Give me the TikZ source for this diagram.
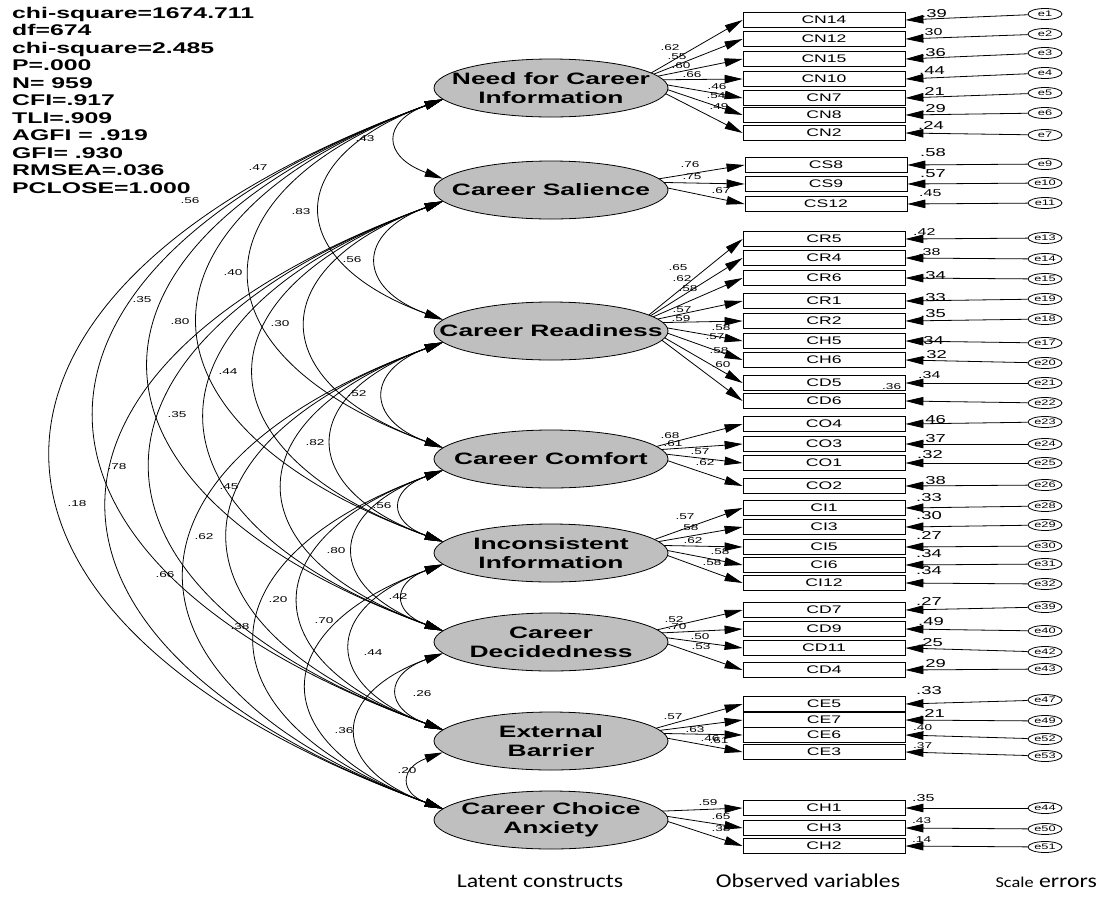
\documentclass[tikz,border=0pt]{standalone}
\usepackage{fontspec}
\usepackage{tikz}
\usetikzlibrary{shapes.geometric, arrows.meta, backgrounds}
\newfontfamily\amos[FakeStretch=1.6]{Liberation Sans}
\newfontfamily\capt[FakeStretch=1.22]{Carlito}
\tikzset{
  lat/.style={ellipse, draw, line width=0.8pt, fill=black!25, minimum width=234pt, minimum height=58pt, inner xsep=-40pt, inner ysep=0pt, align=center, font=\amos\bfseries\fontsize{16.5}{19}\selectfont},
  obs/.style={rectangle, draw, line width=0.8pt, fill=white, minimum width=162pt, minimum height=15pt, inner sep=0pt, font=\amos\fontsize{11}{13}\selectfont},
  err/.style={ellipse, draw, line width=0.8pt, fill=white, minimum width=34pt, minimum height=11pt, inner sep=0pt, font=\amos\fontsize{8}{9}\selectfont},
  ld/.style={-{Triangle[length=18pt,width=8.5pt]}, line width=0.8pt},
  cov/.style={{Triangle[length=18pt,width=8.5pt]}-{Triangle[length=18pt,width=8.5pt]}, line width=0.8pt},
  lbl/.style={inner sep=0pt, font=\amos\fontsize{8.5}{10}\selectfont},
  rbig/.style={anchor=west, inner sep=0pt, font=\amos\fontsize{11.5}{13}\selectfont},
  rmid/.style={anchor=west, inner sep=0pt, font=\amos\fontsize{10}{12}\selectfont},
  rsml/.style={anchor=west, inner sep=0pt, font=\amos\fontsize{8.5}{10}\selectfont},
  capnote/.style={anchor=base, inner sep=0pt, font=\capt\fontsize{19.5}{22}\selectfont}
}

\begin{document}
\begin{tikzpicture}[x=1pt, y=1pt]
\useasboundingbox (0,0) rectangle (1101,-898);
\node[anchor=north west, inner sep=0pt, align=left, font=\amos\bfseries\fontsize{15.5}{17.5}\selectfont] (stats) at (12,-7) {chi-square=1674.711\\df=674\\chi-square=2.485\\P=.000\\N= 959\\CFI=.917\\TLI=.909\\AGFI = .919\\GFI= .930\\RMSEA=.036\\PCLOSE=1.000};

\node[lat] (NCI) at (551,-88) {Need for Career\\Information};
\node[lat] (CS) at (551,-190) {Career Salience};
\node[lat] (CR) at (551,-331) {Career Readiness};
\node[lat] (CO) at (551,-459) {Career Comfort};
\node[lat] (CI) at (551,-553) {Inconsistent\\Information};
\node[lat] (CD) at (551,-642) {Career\\Decidedness};
\node[lat] (CE) at (551,-741) {External\\Barrier};
\node[lat] (CH) at (551,-820) {Career Choice\\Anxiety};

\node[obs] (CN14) at (824,-20) {CN14};
\node[obs] (CN12) at (824,-39) {CN12};
\node[obs] (CN15) at (824,-59) {CN15};
\node[obs] (CN10) at (824,-79) {CN10};
\node[obs] (CN7) at (824,-98) {CN7};
\node[obs] (CN8) at (824,-115) {CN8};
\node[obs] (CN2) at (824,-133) {CN2};
\node[obs] (CS8) at (826,-165) {CS8};
\node[obs] (CS9) at (826,-184) {CS9};
\node[obs] (CS12) at (826,-204) {CS12};
\node[obs] (CR5) at (824,-239) {CR5};
\node[obs] (CR4) at (824,-258) {CR4};
\node[obs] (CR6) at (824,-278) {CR6};
\node[obs] (CR1) at (824,-301) {CR1};
\node[obs] (CR2) at (824,-321) {CR2};
\node[obs] (CH5) at (824,-341) {CH5};
\node[obs] (CH6) at (824,-360) {CH6};
\node[obs] (CD5) at (824,-383) {CD5};
\node[obs] (CD6) at (824,-401) {CD6};
\node[obs] (CO4) at (824,-424) {CO4};
\node[obs] (CO3) at (824,-444) {CO3};
\node[obs] (CO1) at (824,-463) {CO1};
\node[obs] (CO2) at (824,-486) {CO2};
\node[obs] (CI1) at (824,-508) {CI1};
\node[obs] (CI3) at (824,-527) {CI3};
\node[obs] (CI5) at (824,-547) {CI5};
\node[obs] (CI6) at (824,-565) {CI6};
\node[obs] (CI12) at (824,-583) {CI12};
\node[obs] (CD7) at (824,-610) {CD7};
\node[obs] (CD9) at (824,-629) {CD9};
\node[obs] (CD11) at (824,-648) {CD11};
\node[obs] (CD4) at (824,-670) {CD4};
\node[obs] (CE5) at (824,-704) {CE5};
\node[obs] (CE7) at (824,-720) {CE7};
\node[obs] (CE6) at (824,-735) {CE6};
\node[obs] (CE3) at (824,-752) {CE3};
\node[obs] (CH1) at (824,-808) {CH1};
\node[obs] (CH3) at (824,-828) {CH3};
\node[obs] (CH2) at (824,-846) {CH2};

\node[err] (e1) at (1045,-14) {e1};
\node[err] (e2) at (1045,-34) {e2};
\node[err] (e3) at (1045,-53) {e3};
\node[err] (e4) at (1045,-73) {e4};
\node[err] (e5) at (1045,-93) {e5};
\node[err] (e6) at (1045,-113) {e6};
\node[err] (e7) at (1045,-135) {e7};
\node[err] (e9) at (1045,-164) {e9};
\node[err] (e10) at (1045,-183) {e10};
\node[err] (e11) at (1045,-203) {e11};
\node[err] (e13) at (1045,-238) {e13};
\node[err] (e14) at (1045,-259) {e14};
\node[err] (e15) at (1045,-279) {e15};
\node[err] (e19) at (1045,-299) {e19};
\node[err] (e18) at (1045,-319) {e18};
\node[err] (e17) at (1045,-343) {e17};
\node[err] (e20) at (1045,-363) {e20};
\node[err] (e21) at (1045,-383) {e21};
\node[err] (e22) at (1045,-403) {e22};
\node[err] (e23) at (1045,-422) {e23};
\node[err] (e24) at (1045,-444) {e24};
\node[err] (e25) at (1045,-463) {e25};
\node[err] (e26) at (1045,-485) {e26};
\node[err] (e28) at (1045,-506) {e28};
\node[err] (e29) at (1045,-525) {e29};
\node[err] (e30) at (1045,-546) {e30};
\node[err] (e31) at (1045,-564) {e31};
\node[err] (e32) at (1045,-584) {e32};
\node[err] (e39) at (1045,-607) {e39};
\node[err] (e40) at (1045,-631) {e40};
\node[err] (e42) at (1045,-652) {e42};
\node[err] (e43) at (1045,-669) {e43};
\node[err] (e47) at (1045,-700) {e47};
\node[err] (e49) at (1045,-721) {e49};
\node[err] (e52) at (1045,-739) {e52};
\node[err] (e53) at (1045,-756) {e53};
\node[err] (e44) at (1045,-808) {e44};
\node[err] (e50) at (1045,-829) {e50};
\node[err] (e51) at (1045,-847) {e51};

\coordinate (NCIo) at ([shift={(88,8)}]NCI.center);
\coordinate (CSo) at ([shift={(88,8)}]CS.center);
\coordinate (CRo) at ([shift={(88,8)}]CR.center);
\coordinate (COo) at ([shift={(88,8)}]CO.center);
\coordinate (CIo) at ([shift={(88,8)}]CI.center);
\coordinate (CDo) at ([shift={(88,8)}]CD.center);
\coordinate (CEo) at ([shift={(88,8)}]CE.center);
\coordinate (CHo) at ([shift={(88,8)}]CH.center);

\begin{pgfonlayer}{background}
\draw[ld] (NCIo) -- (CN14.west);
\draw[ld] (NCIo) -- (CN12.west);
\draw[ld] (NCIo) -- (CN15.west);
\draw[ld] (NCIo) -- (CN10.west);
\draw[ld] (NCIo) -- (CN7.west);
\draw[ld] (NCIo) -- (CN8.west);
\draw[ld] (NCIo) -- (CN2.west);
\draw[ld] (CSo) -- (CS8.west);
\draw[ld] (CSo) -- (CS9.west);
\draw[ld] (CSo) -- (CS12.west);
\draw[ld] (CRo) -- (CR5.west);
\draw[ld] (CRo) -- (CR4.west);
\draw[ld] (CRo) -- (CR6.west);
\draw[ld] (CRo) -- (CR1.west);
\draw[ld] (CRo) -- (CR2.west);
\draw[ld] (CRo) -- (CH5.west);
\draw[ld] (CRo) -- (CH6.west);
\draw[ld] (CRo) -- (CD5.west);
\draw[ld] (CRo) -- (CD6.west);
\draw[ld] (COo) -- (CO4.west);
\draw[ld] (COo) -- (CO3.west);
\draw[ld] (COo) -- (CO1.west);
\draw[ld] (COo) -- (CO2.west);
\draw[ld] (CIo) -- (CI1.west);
\draw[ld] (CIo) -- (CI3.west);
\draw[ld] (CIo) -- (CI5.west);
\draw[ld] (CIo) -- (CI6.west);
\draw[ld] (CIo) -- (CI12.west);
\draw[ld] (CDo) -- (CD7.west);
\draw[ld] (CDo) -- (CD9.west);
\draw[ld] (CDo) -- (CD11.west);
\draw[ld] (CDo) -- (CD4.west);
\draw[ld] (CEo) -- (CE5.west);
\draw[ld] (CEo) -- (CE7.west);
\draw[ld] (CEo) -- (CE6.west);
\draw[ld] (CEo) -- (CE3.west);
\draw[ld] (CHo) -- (CH1.west);
\draw[ld] (CHo) -- (CH3.west);
\draw[ld] (CHo) -- (CH2.west);
\end{pgfonlayer}

\draw[ld] (e1) -- (CN14.east);
\draw[ld] (e2) -- (CN12.east);
\draw[ld] (e3) -- (CN15.east);
\draw[ld] (e4) -- (CN10.east);
\draw[ld] (e5) -- (CN7.east);
\draw[ld] (e6) -- (CN8.east);
\draw[ld] (e7) -- (CN2.east);
\draw[ld] (e9) -- (CS8.east);
\draw[ld] (e10) -- (CS9.east);
\draw[ld] (e11) -- (CS12.east);
\draw[ld] (e13) -- (CR5.east);
\draw[ld] (e14) -- (CR4.east);
\draw[ld] (e15) -- (CR6.east);
\draw[ld] (e19) -- (CR1.east);
\draw[ld] (e18) -- (CR2.east);
\draw[ld] (e17) -- (CH5.east);
\draw[ld] (e20) -- (CH6.east);
\draw[ld] (e21) -- (CD5.east);
\draw[ld] (e22) -- (CD6.east);
\draw[ld] (e23) -- (CO4.east);
\draw[ld] (e24) -- (CO3.east);
\draw[ld] (e25) -- (CO1.east);
\draw[ld] (e26) -- (CO2.east);
\draw[ld] (e28) -- (CI1.east);
\draw[ld] (e29) -- (CI3.east);
\draw[ld] (e30) -- (CI5.east);
\draw[ld] (e31) -- (CI6.east);
\draw[ld] (e32) -- (CI12.east);
\draw[ld] (e39) -- (CD7.east);
\draw[ld] (e40) -- (CD9.east);
\draw[ld] (e42) -- (CD11.east);
\draw[ld] (e43) -- (CD4.east);
\draw[ld] (e47) -- (CE5.east);
\draw[ld] (e49) -- (CE7.east);
\draw[ld] (e52) -- (CE6.east);
\draw[ld] (e53) -- (CE3.east);
\draw[ld] (e44) -- (CH1.east);
\draw[ld] (e50) -- (CH3.east);
\draw[ld] (e51) -- (CH2.east);

\draw[cov] (NCI.186) to[out=200, in=160, looseness=2.1] (CS.174);
\draw[cov] (NCI.186) to[out=200, in=160, looseness=2] (CR.174);
\draw[cov] (NCI.186) to[out=200, in=160, looseness=2] (CO.174);
\draw[cov] (NCI.186) to[out=200, in=160, looseness=2] (CI.174);
\draw[cov] (NCI.186) to[out=200, in=160, looseness=2] (CD.174);
\draw[cov] (NCI.186) to[out=200, in=160, looseness=2] (CE.174);
\draw[cov] (NCI.186) to[out=200, in=160, looseness=2] (CH.174);
\draw[cov] (CS.186) to[out=200, in=160, looseness=2] (CR.174);
\draw[cov] (CS.186) to[out=200, in=160, looseness=2] (CO.174);
\draw[cov] (CS.186) to[out=200, in=160, looseness=2] (CI.174);
\draw[cov] (CS.186) to[out=200, in=160, looseness=2] (CD.174);
\draw[cov] (CS.186) to[out=200, in=160, looseness=2] (CE.174);
\draw[cov] (CS.186) to[out=200, in=160, looseness=2] (CH.174);
\draw[cov] (CR.186) to[out=200, in=160, looseness=2] (CO.174);
\draw[cov] (CR.186) to[out=200, in=160, looseness=2] (CI.174);
\draw[cov] (CR.186) to[out=200, in=160, looseness=2] (CD.174);
\draw[cov] (CR.186) to[out=200, in=160, looseness=2] (CE.174);
\draw[cov] (CR.186) to[out=200, in=160, looseness=2] (CH.174);
\draw[cov] (CO.186) to[out=200, in=160, looseness=2.1] (CI.174);
\draw[cov] (CO.186) to[out=200, in=160, looseness=2] (CD.174);
\draw[cov] (CO.186) to[out=200, in=160, looseness=2] (CE.174);
\draw[cov] (CO.186) to[out=200, in=160, looseness=2] (CH.174);
\draw[cov] (CI.186) to[out=200, in=160, looseness=2.1] (CD.174);
\draw[cov] (CI.186) to[out=200, in=160, looseness=2] (CE.174);
\draw[cov] (CI.186) to[out=200, in=160, looseness=2] (CH.174);
\draw[cov] (CD.186) to[out=200, in=160, looseness=2.1] (CE.174);
\draw[cov] (CD.186) to[out=200, in=160, looseness=2] (CH.174);
\draw[cov] (CE.186) to[out=200, in=160, looseness=2.1] (CH.174);

\node[lbl] (k1) at (365,-139) {.43};
\node[lbl] (k2) at (258,-168) {.47};
\node[lbl] (k3) at (190,-201) {.56};
\node[lbl] (k4) at (301,-212) {.83};
\node[lbl] (k5) at (352,-260) {.56};
\node[lbl] (k6) at (233,-273) {.40};
\node[lbl] (k7) at (142,-300) {.35};
\node[lbl] (k8) at (180,-322) {.80};
\node[lbl] (k9) at (280,-324) {.30};
\node[lbl] (k10) at (228,-372) {.44};
\node[lbl] (k11) at (357,-394) {.52};
\node[lbl] (k12) at (177,-415) {.35};
\node[lbl] (k13) at (315,-443) {.82};
\node[lbl] (k14) at (117,-467) {.78};
\node[lbl] (k15) at (229,-487) {.45};
\node[lbl] (k16) at (382,-506) {.56};
\node[lbl] (k17) at (77,-504) {.18};
\node[lbl] (k18) at (204,-537) {.62};
\node[lbl] (k19) at (336,-551) {.80};
\node[lbl] (k20) at (165,-575) {.66};
\node[lbl] (k21) at (278,-600) {.20};
\node[lbl] (k22) at (398,-597) {.42};
\node[lbl] (k23) at (324,-621) {.70};
\node[lbl] (k24) at (240,-627) {.38};
\node[lbl] (k25) at (373,-653) {.44};
\node[lbl] (k26) at (422,-694) {.26};
\node[lbl] (k27) at (344,-731) {.36};
\node[lbl] (k28) at (407,-771) {.20};

\node[lbl] (lCN14) at (670,-48) {.62};
\node[lbl] (lCN12) at (677,-57) {.55};
\node[lbl] (lCN15) at (681,-66) {.60};
\node[lbl] (lCN10) at (692,-75) {.66};
\node[lbl] (lCN7) at (717,-87) {.46};
\node[lbl] (lCN8) at (716,-96) {.54};
\node[lbl] (lCN2) at (719,-107) {.49};
\node[lbl] (lCS8) at (690,-165) {.76};
\node[lbl] (lCS9) at (692,-177) {.75};
\node[lbl] (lCS12) at (721,-191) {.67};
\node[lbl] (lCR5) at (678,-268) {.65};
\node[lbl] (lCR4) at (682,-279) {.62};
\node[lbl] (lCR6) at (688,-289) {.58};
\node[lbl] (lCR1) at (682,-310) {.57};
\node[lbl] (lCR2) at (681,-319) {.59};
\node[lbl] (lCH5) at (721,-328) {.58};
\node[lbl] (lCH6) at (715,-337) {.57};
\node[lbl] (lCD5) at (719,-351) {.58};
\node[lbl] (lCD6) at (721,-365) {.60};
\node[lbl] (lCO4) at (670,-436) {.68};
\node[lbl] (lCO3) at (673,-444) {.61};
\node[lbl] (lCO1) at (700,-452) {.57};
\node[lbl] (lCO2) at (705,-463) {.62};
\node[lbl] (lCI1) at (685,-517) {.57};
\node[lbl] (lCI3) at (689,-528) {.58};
\node[lbl] (lCI5) at (693,-541) {.62};
\node[lbl] (lCI6) at (720,-552) {.58};
\node[lbl] (lCI12) at (712,-563) {.58};
\node[lbl] (lCD7) at (674,-620) {.52};
\node[lbl] (lCD9) at (677,-627) {.70};
\node[lbl] (lCD11) at (700,-637) {.50};
\node[lbl] (lCD4) at (701,-647) {.53};
\node[lbl] (lCE5) at (673,-717) {.57};
\node[lbl] (lCE7) at (695,-730) {.63};
\node[lbl] (lCE6) at (710,-739) {.46};
\node[lbl] (lCE3) at (719,-741) {.61};
\node[lbl] (lCH1) at (708,-803) {.59};
\node[lbl] (lCH3) at (721,-817) {.65};
\node[lbl] (lCH2) at (721,-829) {.38};

\node[rbig] (rCN14) at (921,-14) {.39};
\node[rmid] (rCN12) at (920,-32) {.30};
\node[rbig] (rCN15) at (920,-53) {.36};
\node[rbig] (rCN10) at (919,-71) {.44};
\node[rbig] (rCN7) at (919,-91) {.21};
\node[rbig] (rCN8) at (920,-109) {.29};
\node[rbig] (rCN2) at (918,-125) {.24};
\node[rbig] (rCS8) at (920,-153) {.58};
\node[rbig] (rCS9) at (920,-174) {.57};
\node[rmid] (rCS12) at (919,-193) {.45};
\node[rmid] (rCR5) at (913,-232) {.42};
\node[rmid] (rCR4) at (918,-252) {.38};
\node[rbig] (rCR6) at (920,-276) {.34};
\node[rbig] (rCR1) at (920,-298) {.33};
\node[rbig] (rCR2) at (920,-314) {.35};
\node[rbig] (rCH5) at (918,-341) {.34};
\node[rbig] (rCH6) at (921,-355) {.32};
\node[rmid] (rCD5) at (918,-375) {.34};
\node[rsml] (rCD6) at (882,-387) {.36};
\node[rbig] (rCO4) at (920,-420) {.46};
\node[rbig] (rCO3) at (920,-439) {.37};
\node[rbig] (rCO1) at (917,-455) {.32};
\node[rbig] (rCO2) at (920,-481) {.38};
\node[rbig] (rCI1) at (916,-498) {.33};
\node[rbig] (rCI3) at (916,-516) {.30};
\node[rbig] (rCI5) at (916,-535) {.27};
\node[rbig] (rCI6) at (916,-554) {.34};
\node[rbig] (rCI12) at (916,-571) {.34};
\node[rbig] (rCD7) at (916,-601) {.27};
\node[rbig] (rCD9) at (918,-622) {.49};
\node[rbig] (rCD11) at (917,-643) {.25};
\node[rbig] (rCD4) at (920,-664) {.29};
\node[rbig] (rCE5) at (916,-691) {.33};
\node[rbig] (rCE7) at (919,-713) {.21};
\node[rsml] (rCE6) at (913,-728) {.40};
\node[rsml] (rCE3) at (913,-746) {.37};
\node[rmid] (rCH1) at (912,-798) {.35};
\node[rsml] (rCH3) at (912,-821) {.43};
\node[rsml] (rCH2) at (912,-840) {.14};

\node[capnote] (latcap) at (540,-887) {Latent constructs};
\node[capnote] (obscap) at (808,-887) {Observed variables};
\node[capnote, anchor=base east] (errcap) at (1097,-887) {{\fontsize{15}{22}\selectfont Scale} errors};
\end{tikzpicture}
\end{document}
